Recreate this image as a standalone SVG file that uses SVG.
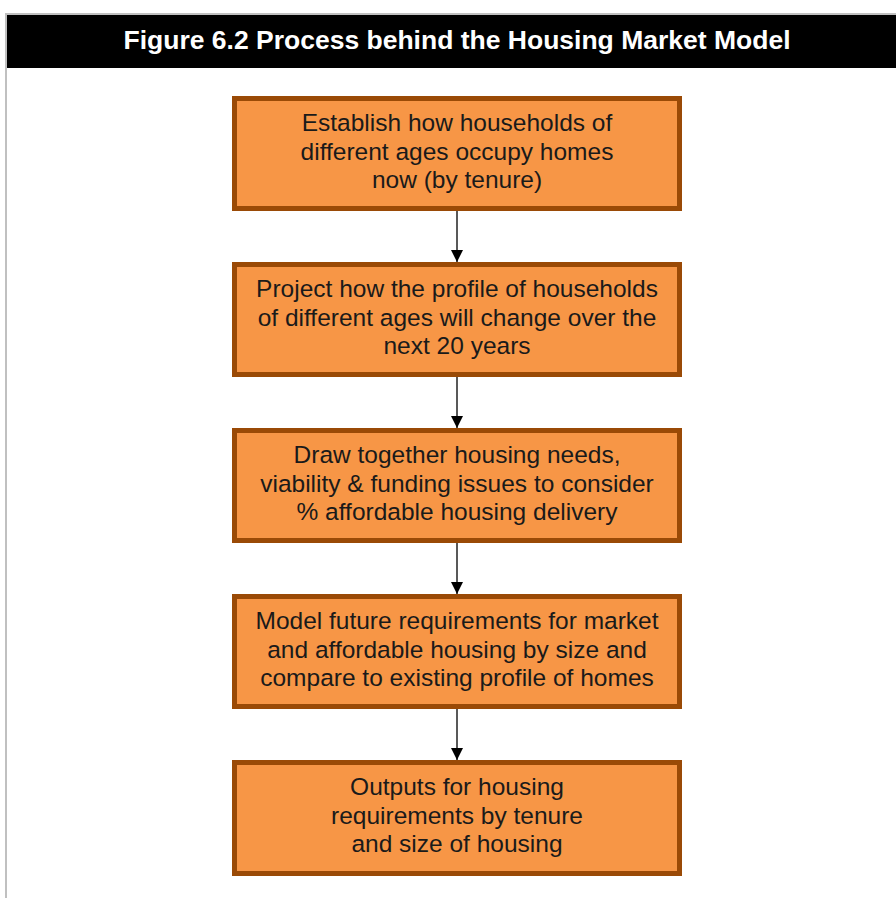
<svg xmlns="http://www.w3.org/2000/svg" width="896" height="898" viewBox="0 0 896 898">
<style>
.frame{fill:none;stroke:#c0c0c0;stroke-width:2}
.box{fill:#f79646;stroke:#9a4a06;stroke-width:5}
.t{font-family:"Liberation Sans",Arial,sans-serif;font-size:24.5px;fill:#1a1a1a;text-anchor:middle}
.title{font-family:"Liberation Sans",Arial,sans-serif;font-size:26.5px;font-weight:bold;fill:#ffffff;text-anchor:middle}
.c{stroke:#222;stroke-width:1.5;fill:none}
</style>
<defs>
<marker id="ah" markerWidth="12" markerHeight="12" refX="12" refY="6" orient="auto" markerUnits="userSpaceOnUse">
<path d="M0,0 L12,6 L0,12 Z" fill="#000"/>
</marker>
</defs>
<rect x="0" y="0" width="896" height="898" fill="#ffffff"/>
<g id="frame">
<rect x="6" y="14" width="895" height="890" class="frame"/>
<rect x="7" y="15" width="889" height="53" fill="#000"/>
<text x="457" y="49" class="title">Figure 6.2 Process behind the Housing Market Model</text>
</g>
<g id="connectors">
<line x1="457" y1="211" x2="457" y2="262" class="c" marker-end="url(#ah)"/>
<line x1="457" y1="377" x2="457" y2="428" class="c" marker-end="url(#ah)"/>
<line x1="457" y1="543" x2="457" y2="594" class="c" marker-end="url(#ah)"/>
<line x1="457" y1="709" x2="457" y2="760" class="c" marker-end="url(#ah)"/>
</g>
<g id="n1">
<rect x="234.5" y="98.5" width="445" height="110" class="box"/>
<text class="t"><tspan x="457" y="131">Establish how households of</tspan><tspan x="457" y="159.5">different ages occupy homes</tspan><tspan x="457" y="188">now (by tenure)</tspan></text>
</g>
<g id="n2">
<rect x="234.5" y="264.5" width="445" height="110" class="box"/>
<text class="t"><tspan x="457" y="297">Project how the profile of households</tspan><tspan x="457" y="325.5">of different ages will change over the</tspan><tspan x="457" y="354">next 20 years</tspan></text>
</g>
<g id="n3">
<rect x="234.5" y="430.5" width="445" height="110" class="box"/>
<text class="t"><tspan x="457" y="463">Draw together housing needs,</tspan><tspan x="457" y="491.5">viability &amp; funding issues to consider</tspan><tspan x="457" y="520">% affordable housing delivery</tspan></text>
</g>
<g id="n4">
<rect x="234.5" y="596.5" width="445" height="110" class="box"/>
<text class="t"><tspan x="457" y="629">Model future requirements for market</tspan><tspan x="457" y="657.5">and affordable housing by size and</tspan><tspan x="457" y="686">compare to existing profile of homes</tspan></text>
</g>
<g id="n5">
<rect x="234.5" y="762.5" width="445" height="111" class="box"/>
<text class="t"><tspan x="457" y="795">Outputs for housing</tspan><tspan x="457" y="823.5">requirements by tenure</tspan><tspan x="457" y="852">and size of housing</tspan></text>
</g>
</svg>
